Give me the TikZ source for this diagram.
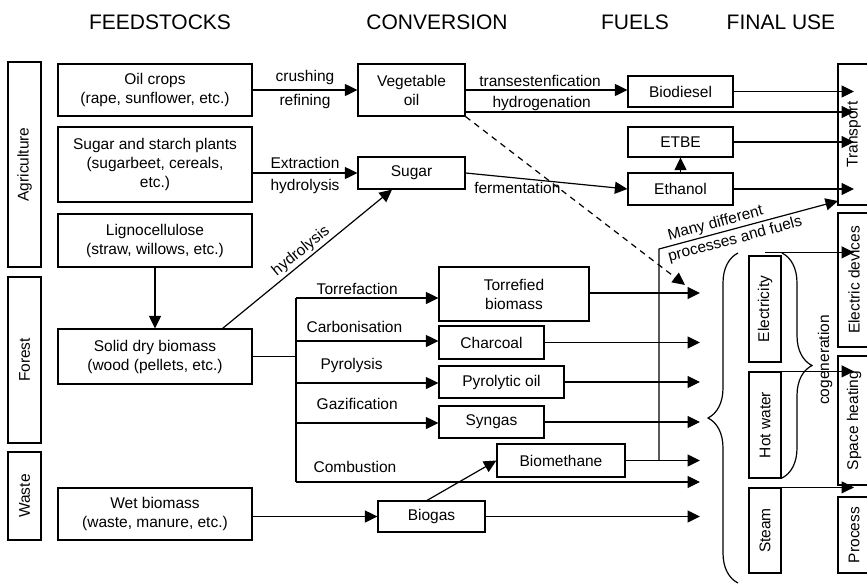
\documentclass[tikz,border=0pt]{standalone}
\usepackage{fontspec}
\setmainfont{Liberation Sans}
\usetikzlibrary{arrows.meta,decorations.pathreplacing,calc}

\begin{document}
\begin{tikzpicture}[x=1pt,y=-1pt,
  line width=1.2pt,
  box/.style={draw, rectangle, inner sep=0pt, align=center,
              font=\fontsize{15.5}{19}\selectfont},
  vbox/.style={box, rotate=90},
  head/.style={font=\fontsize{21}{24}\selectfont, inner sep=0pt},
  lbl/.style={font=\fontsize{15.5}{19}\selectfont, inner sep=0pt},
  arr/.style={-{Triangle[length=12.5pt,width=12pt]}},
  brc/.style={decorate, decoration={brace, amplitude=30pt}},
]
\fill[white] (0,0) rectangle (867,584);
\useasboundingbox (0,0) rectangle (867,584);

% column headings
\node[head] (hfeed) at (160,22) {FEEDSTOCKS};
\node[head] (hconv) at (437,22) {CONVERSION};
\node[head] (hfuel) at (635,22) {FUELS};
\node[head] (hfinal) at (781,22) {FINAL USE};

% sectors
\node[vbox, minimum width=205, minimum height=33] (agr) at (24.5,164.5) {Agriculture};
\node[vbox, minimum width=166, minimum height=33] (forest) at (24.5,360) {Forest};
\node[vbox, minimum width=88, minimum height=33] (waste) at (24.5,496) {Waste};

% feedstocks
\node[box, minimum width=194, minimum height=52] (oil) at (155,90) {Oil crops\\(rape, sunflower, etc.)};
\node[box, minimum width=194, minimum height=75] (starch) at (155,164.5) {Sugar and starch plants\\(sugarbeet, cereals,\\etc.)};
\node[box, minimum width=194, minimum height=53] (ligno) at (155,240.5) {Lignocellulose\\(straw, willows, etc.)};
\node[box, minimum width=194, minimum height=55] (solid) at (155,356.5) {Solid dry biomass\\(wood (pellets, etc.)};
\node[box, minimum width=194, minimum height=52] (wet) at (155,514) {Wet biomass\\(waste, manure, etc.)};

% conversion products
\node[box, minimum width=107, minimum height=52] (veg) at (411.5,90) {Vegetable\\oil};
\node[box, minimum width=107, minimum height=32] (sugar) at (411.5,173) {Sugar};
\node[box, minimum width=150, minimum height=54] (torr) at (514,294) {Torrefied\\biomass};
\node[box, minimum width=105, minimum height=33] (charcoal) at (491.5,342.5) {Charcoal};
\node[box, minimum width=125, minimum height=32] (pyro) at (501.5,382) {Pyrolytic oil};
\node[box, minimum width=105, minimum height=32] (syngas) at (491.5,422) {Syngas};
\node[box, minimum width=128, minimum height=33] (biometh) at (561,460.5) {Biomethane};
\node[box, minimum width=107, minimum height=31] (biogas) at (431.5,516.5) {Biogas};

% fuels
\node[box, minimum width=105, minimum height=31] (biodiesel) at (680.5,91.5) {Biodiesel};
\node[box, minimum width=105, minimum height=30] (etbe) at (680.5,142) {ETBE};
\node[box, minimum width=105, minimum height=32] (ethanol) at (680.5,189) {Ethanol};

% energy carriers
\node[vbox, minimum width=106, minimum height=32] (elec) at (765,309) {Electricity};
\node[vbox, minimum width=106, minimum height=32] (hotw) at (765,425) {Hot water};
\node[vbox, minimum width=85, minimum height=32] (steam) at (765,530.5) {Steam};

% final uses
\node[vbox, minimum width=141, minimum height=32] (transport) at (854,134.5) {Transport};
\node[vbox, minimum width=134, minimum height=32] (elecdev) at (854,280) {Electric devices};
\node[vbox, minimum width=129, minimum height=32] (spaceheat) at (854,420.5) {Space heating};
\node[vbox, minimum width=76, minimum height=32] (process) at (854,535) {Process};

% helper coordinates
\coordinate (endx) at (700,0);
\coordinate (trunkT) at (296,298);
\coordinate (trunkB) at (296,482);
\coordinate (hydS) at ([yshift=-22pt]veg.east);
\coordinate (dashEnd) at (685,285);
\coordinate (manyTop) at (659,249);
\coordinate (manyEnd) at (838,201);
\coordinate (eOut) at ([yshift=3pt]elec.east);
\coordinate (bCarb) at (296,341);
\coordinate (bPyro) at (296,383);
\coordinate (bGaz) at (296,423);

% oil route
\draw[arr] (oil.east) -- node[lbl, above=5pt] {crushing} node[lbl, below=4pt] {refining} (veg.west);
\draw[arr] (veg.east) -- node[lbl, pos=0.46, above=3pt] {transestenfication} (veg.east -| biodiesel.west);
\draw[arr] (hydS) -- node[lbl, pos=0.196, above=1pt] {hydrogenation} (hydS -| transport.west);
\draw[arr] (biodiesel.east) -- (biodiesel.east -| transport.west);

% sugar route
\draw[arr] (starch.east |- sugar.west) -- node[lbl, above=4pt] {Extraction} node[lbl, below=6pt] {hydrolysis} (sugar.west);
\draw[arr] (sugar.east) -- node[lbl, pos=0.32, below=4pt] {fermentation} (ethanol.west);
\draw[arr] (ethanol.north) -- (etbe.south);
\draw[arr] (etbe.east) -- (etbe.east -| transport.west);
\draw[arr] (ethanol.east) -- (ethanol.east -| transport.west);
\draw[arr, dash pattern=on 6pt off 5pt] (veg.south east) -- (dashEnd);

% lignocellulosic route
\draw[arr] (ligno.south) -- (solid.north);
\draw[arr] ([xshift=-30pt]solid.north east) -- node[lbl, sloped, above=2pt] {hydrolysis} ([xshift=-19.5pt]sugar.south);
\draw (solid.east) -- (solid.east -| trunkT);
\draw (trunkT) -- (trunkB);
\draw[arr] (trunkT) -- node[lbl, pos=0.43, above=3pt] {Torrefaction} (trunkT -| torr.west);
\draw[arr] (bCarb) -- node[lbl, pos=0.41, above=8pt] {Carbonisation} (bCarb -| charcoal.west);
\draw[arr] (bPyro) -- node[lbl, pos=0.39, above=10pt] {Pyrolysis} (bPyro -| pyro.west);
\draw[arr] (bGaz) -- node[lbl, pos=0.43, above=13pt] {Gazification} (bGaz -| syngas.west);
\draw[arr] (trunkB) -- node[lbl, pos=0.146, above=9pt] {Combustion} (trunkB -| endx);

% wet route
\draw[arr] (wet.east |- biogas.west) -- (biogas.west);
\draw[arr] ([xshift=-4.5pt]biogas.north) -- (biometh.west);

% fuels towards heat and power
\draw[arr] ([yshift=1pt]torr.east) -- ([yshift=1pt]torr.east -| endx);
\draw[arr] (charcoal.east) -- (charcoal.east -| endx);
\draw[arr] (pyro.east) -- (pyro.east -| endx);
\draw[arr] (syngas.east) -- (syngas.east -| endx);
\draw[arr] (biometh.east) -- (biometh.east -| endx);
\draw[arr] (biogas.east) -- (biogas.east -| endx);
\draw[arr] (biometh.east -| manyTop) -- (manyTop) --
  node[lbl, sloped, pos=0.33, above=2pt] {Many different}
  node[lbl, sloped, pos=0.41, below=3pt] {processes and fuels} (manyEnd);

% braces
\draw[brc] (738,583) -- (738,253);
\draw[brc] (782,253) -- (782,478);
\node[lbl, rotate=90] (cogen) at (825,360) {cogeneration};

% final use arrows
\draw[arr] (eOut) -- (eOut -| elecdev.west);
\draw[arr] (hotw.east) -- (hotw.east -| spaceheat.west);
\draw[arr] (steam.east) -- (steam.east -| process.west);
\end{tikzpicture}
\end{document}
